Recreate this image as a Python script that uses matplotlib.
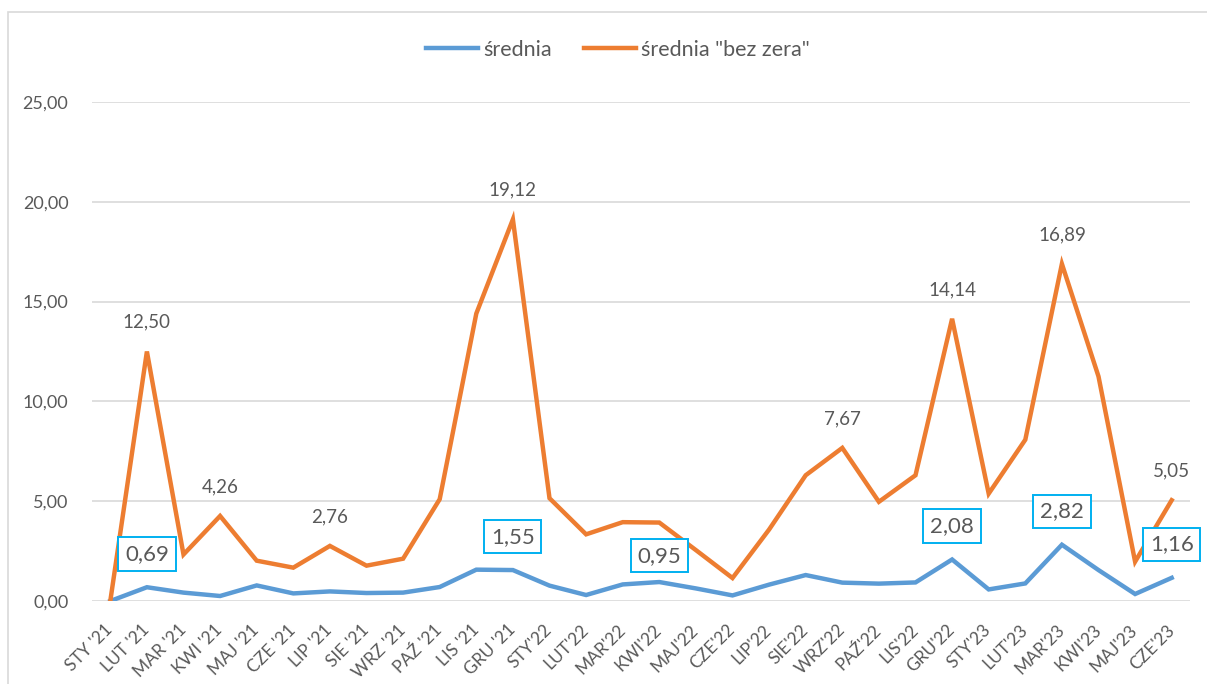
import matplotlib
matplotlib.use("Agg")
import matplotlib.pyplot as plt
from matplotlib.patches import Rectangle
from matplotlib.ticker import FuncFormatter

plt.rcParams['font.family'] = ['Lato', 'DejaVu Sans']

MONTHS = ["STY '21", "LUT '21", "MAR '21", "KWI '21", "MAJ '21", "CZE '21",
          "LIP '21", "SIE '21", "WRZ '21", "PAŹ '21", "LIS '21", "GRU '21",
          "STY'22", "LUT'22", "MAR'22", "KWI'22", "MAJ'22", "CZE'22",
          "LIP'22", "SIE'22", "WRZ'22", "PAŹ'22", "LIS'22", "GRU'22",
          "STY'23", "LUT'23", "MAR'23", "KWI'23", "MAJ'23", "CZE'23"]

srednia = [0.00, 0.69, 0.42, 0.25, 0.78, 0.38, 0.48, 0.40, 0.42, 0.70,
           1.57, 1.55, 0.77, 0.30, 0.83, 0.95, 0.63, 0.28, 0.82, 1.30,
           0.92, 0.87, 0.93, 2.08, 0.58, 0.88, 2.82, 1.55, 0.35, 1.16]

srednia_bez_zera = [0.00, 12.50, 2.33, 4.26, 2.02, 1.67, 2.76, 1.77, 2.12, 5.10,
                    14.40, 19.12, 5.15, 3.34, 3.95, 3.93, 2.55, 1.15, 3.58, 6.30,
                    7.67, 4.97, 6.30, 14.14, 5.38, 8.08, 16.89, 11.25, 1.97, 5.05]

# which points get a data label
BLUE_LABELS = [1, 11, 15, 23, 26, 29]
ORANGE_LABELS = [1, 3, 6, 11, 20, 23, 26, 29]

BLUE = "#5B9BD5"
ORANGE = "#ED7D31"
TXT = "#595959"
GRID = "#D9D9D9"

fmt = lambda v: f"{v:.2f}".replace(".", ",")

fig = plt.figure(figsize=(12.07, 6.84), dpi=100)
ax = fig.add_axes([92 / 1207, 1 - 601 / 684, (1190 - 92) / 1207, (601 - 102) / 684])

# chart border (Excel style)
fig.patches.append(Rectangle((8 / 1207, -0.1), 1.2, 1 - 12 / 684 + 0.1,
                             transform=fig.transFigure, fill=False,
                             edgecolor=GRID, linewidth=1.2))

x = list(range(len(MONTHS)))
ax.plot(x, srednia, color=BLUE, lw=3.2, label="średnia", solid_joinstyle="miter", zorder=3)
ax.plot(x, srednia_bez_zera, color=ORANGE, lw=3.2, label='średnia "bez zera"',
        solid_joinstyle="miter", zorder=3)

ax.set_xlim(-0.5, len(MONTHS) - 0.5)
ax.set_ylim(0, 25)
ax.set_yticks([0, 5, 10, 15, 20, 25])
ax.yaxis.set_major_formatter(FuncFormatter(lambda v, p: fmt(v)))
ax.grid(axis="y", color=GRID, lw=1.2)
ax.set_axisbelow(True)
for s in ax.spines.values():
    s.set_visible(False)
ax.tick_params(axis="y", length=0, pad=17, labelsize=13, labelcolor=TXT)
ax.tick_params(axis="x", length=0, pad=19, labelsize=12.5, labelcolor=TXT)
ax.set_xticks(x)
ax.set_xticklabels(MONTHS, rotation=45, ha="right", va="center", rotation_mode="anchor")

for i in ORANGE_LABELS:
    ax.annotate(fmt(srednia_bez_zera[i]), (i, srednia_bez_zera[i]), xytext=(0, 21),
                textcoords="offset points", ha="center", va="center",
                fontsize=13.5, color=TXT)

for i in BLUE_LABELS:
    dy = 19 if i == 15 else 24
    ax.annotate(fmt(srednia[i]), (i, srednia[i]), xytext=(0, dy),
                textcoords="offset points", ha="center", va="center",
                fontsize=16, color=TXT, zorder=5,
                bbox=dict(boxstyle="square,pad=0.3", fc="white", ec="#00B0F0", lw=1.4))

fig.legend(loc="center", bbox_to_anchor=(618 / 1207, 1 - 50 / 684), ncol=2,
           frameon=False, fontsize=15.5, labelcolor=TXT, handlelength=2.4,
           handletextpad=0.25, columnspacing=1.5)

fig.savefig("out.png", dpi=100)
